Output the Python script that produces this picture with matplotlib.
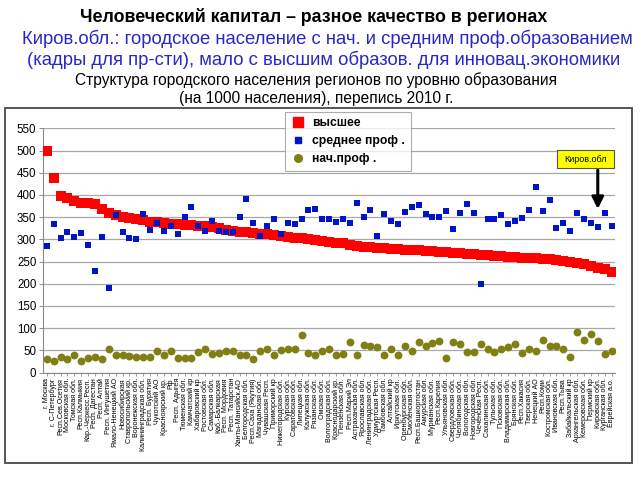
import matplotlib
matplotlib.use("Agg")
import matplotlib.pyplot as plt
from matplotlib.patches import Rectangle
from matplotlib.lines import Line2D

plt.rcParams['font.family'] = ['Liberation Sans', 'DejaVu Sans']

regions = [
    "г. Москва", "г. С-Петербург", "Респ.Сев.Осетия", "Московская обл.", "Томская обл.",
    "Респ.Калмыкия", "Кар.-Черкесс.Респ.", "Респ. Дагестан", "Респ. Алтай", "Респ. Ингушетия",
    "Ямало-Ненецкий АО", "Новосибирская", "Ставропольский кр.", "Воронежская обл.", "Калининградская обл.",
    "Респ. Бурятия", "Чукотский АО", "Красноярский кр.", "Рф", "Респ. Адыгея",
    "Тюменская обл.", "Камчатский кр", "Хабаровский кр", "Ростовская обл.", "Самарская обл.",
    "Каб.-Балкарская", "Респ. Мордовия", "Респ. Татарстан", "Ханты-Мансийск.АО", "Белгородская обл.",
    "Респ.Саха (Якутия)", "Магаданская обл.", "Чувашская Респ.", "Приморский кр", "Нижегородская обл.",
    "Курская обл.", "Саратовская обл.", "Липецкая обл.", "Калужская обл.", "Рязанская обл.",
    "Омская обл.", "Волгоградская обл.", "Краснодарский кр.", "Пензенская обл.", "Респ.Марий Эл",
    "Астраханская обл.", "Ярославская обл.", "Ленинградская обл.", "Удмуртская Респ.", "Тамбовская обл.",
    "Алтайский кр", "Иркутская обл.", "Оренбургская обл.", "Смоленская обл.", "Респ.Башкортостан",
    "Амурская обл.", "Мурманская обл.", "Респ.Карелия", "Ульяновская обл.", "Свердловская обл.",
    "Челябинская обл.", "Вологодская обл.", "Новгородская обл.", "Чеченская Респ.", "Сахалинская обл.",
    "Тульская обл.", "Псковская обл.", "Владимирская обл.", "Брянская обл.", "Респ.Хакасия",
    "Тверская обл.", "Ненецкий АО", "Респ.Коми", "Костромская обл.", "Ивановская обл.",
    "Респ.Тыва", "Забайкальский кр", "Архангельская обл.", "Кемеровская обл.", "Пермский кр",
    "Кировская обл.", "Курганская обл.", "Еврейская а.о.",
]

higher = [
    500, 437, 397, 392, 386, 382, 381, 380, 368, 360,
    355, 350, 347, 345, 343, 340, 338, 336, 335, 334,
    333, 332, 331, 330, 328, 325, 320, 318, 317, 316,
    315, 313, 312, 310, 308, 306, 304, 302, 300, 298,
    296, 293, 292, 291, 288, 285, 283, 282, 281, 280,
    279, 278, 277, 276, 275, 274, 273, 272, 271, 270,
    269, 268, 266, 265, 264, 263, 262, 261, 260, 259,
    258, 257, 256, 255, 253, 251, 249, 247, 244, 240,
    236, 233, 226,
]

secondary = [
    286, 334, 302, 316, 306, 315, 288, 229, 306, 191,
    355, 317, 302, 300, 358, 321, 337, 319, 331, 313,
    351, 373, 331, 319, 342, 319, 316, 316, 351, 391,
    337, 308, 331, 346, 312, 337, 334, 346, 366, 369,
    346, 346, 340, 345, 337, 381, 350, 367, 308, 358,
    342, 334, 362, 372, 377, 357, 351, 350, 364, 323,
    360, 379, 360, 199, 346, 346, 355, 334, 341, 349,
    366, 417, 364, 389, 325, 337, 319, 360, 345, 336,
    328, 360, 331,
]

primary = [
    30, 26, 34, 31, 39, 26, 32, 34, 30, 53,
    39, 39, 37, 35, 35, 35, 48, 39, 48, 33,
    33, 33, 47, 53, 42, 43, 49, 49, 39, 39,
    30, 48, 53, 39, 51, 54, 53, 84, 43, 39,
    48, 53, 39, 42, 68, 39, 62, 60, 57, 39,
    53, 39, 60, 48, 68, 60, 66, 72, 33, 68,
    64, 47, 47, 64, 52, 47, 54, 58, 64, 45,
    54, 49, 73, 60, 60, 54, 34, 92, 73, 86,
    71, 41, 48,
]

legend_labels = ["высшее", "среднее проф .", "нач.проф ."]
yticks = [0, 50, 100, 150, 200, 250, 300, 350, 400, 450, 500, 550]

W, H = 640, 480
fig = plt.figure(figsize=(6.4, 4.8), dpi=100)
fig.patch.set_facecolor('white')

# titles
fig.text(314 / W, 1 - 17 / H, "Человеческий капитал – разное качество в регионах",
         ha='center', va='center', fontsize=12.8, fontweight='bold', color='black')
fig.text(327 / W, 1 - 38.5 / H, "Киров.обл.: городское население с нач. и средним проф.образованием",
         ha='center', va='center', fontsize=13.3, color='#2727C8')
fig.text(324 / W, 1 - 60 / H, "(кадры для пр-сти), мало с высшим образов. для инновац.экономики",
         ha='center', va='center', fontsize=13.3, color='#2727C8')
fig.text(316.5 / W, 1 - 80 / H, "Структура городского населения регионов по уровню образования",
         ha='center', va='center', fontsize=11.2, color='black')
fig.text(316.5 / W, 1 - 98.5 / H, "(на 1000 населения), перепись 2010 г.",
         ha='center', va='center', fontsize=11.2, color='black')

# chart frame
fig.patches.append(Rectangle((5 / W, 1 - 463 / H), (632 - 5) / W, (463 - 108) / H,
                             transform=fig.transFigure, fill=False,
                             edgecolor='#555555', linewidth=1.4))

ax = fig.add_axes([43.3 / W, 1 - 372.5 / H, (615 - 43.3) / W, (372.5 - 128.3) / H])
x = list(range(len(regions)))

ax.scatter(x, primary, s=32, marker='o', color='#7F7F14', zorder=3, linewidths=0)
ax.scatter(x, secondary, s=24, marker='s', color='#0014C8', zorder=4, linewidths=0)
ax.scatter(x, higher, s=50, marker='s', color='#FF0000', zorder=3, linewidths=0)

ax.set_xlim(-0.5, len(regions) - 0.5)
ax.set_ylim(0, 550)
ax.set_yticks(yticks)
ax.set_yticklabels([str(v) for v in yticks], fontsize=8.3)
ax.yaxis.grid(True, color='#A8A8A8', linewidth=0.9)
ax.set_axisbelow(True)
ax.set_xticks(x)
ax.set_xticklabels(regions, rotation=90, fontsize=5.1, ha='center', va='top')
ax.tick_params(axis='x', length=2.5, width=0.5, color='#777777', pad=1.5)
ax.tick_params(axis='y', length=3, width=0.6, color='#777777', pad=2)
for s in ['top', 'right']:
    ax.spines[s].set_visible(False)
for s in ['left', 'bottom']:
    ax.spines[s].set_color('#888888')
    ax.spines[s].set_linewidth(0.8)

handles = [
    Line2D([], [], linestyle='none', marker='s', markersize=7, color='#FF0000'),
    Line2D([], [], linestyle='none', marker='s', markersize=5, color='#0014C8'),
    Line2D([], [], linestyle='none', marker='o', markersize=5.5, color='#7F7F14'),
]
leg = ax.legend(handles, legend_labels, loc='upper left', bbox_to_anchor=(0.423, 1.067),
                prop={'size': 8.7, 'weight': 'bold'}, frameon=True, fancybox=False,
                edgecolor='#999999', labelspacing=0.5, handletextpad=0.6,
                borderpad=0.45, handlelength=1.2, borderaxespad=0)
leg.get_frame().set_linewidth(0.8)

# Kirov annotation
kirov = regions.index("Кировская обл.")
ax.annotate('', xy=(kirov, 362), xytext=(kirov, 462),
            arrowprops=dict(arrowstyle='-|>,head_width=0.35,head_length=0.7',
                            color='black', lw=2.2), zorder=6)
fig.patches.append(Rectangle((557 / W, 1 - 168 / H), (614 - 557) / W, (168 - 150) / H,
                             transform=fig.transFigure, facecolor='#FFFF00',
                             edgecolor='#555555', linewidth=0.8, zorder=7))
fig.text(585.5 / W, 1 - 159 / H, 'Киров.обл', ha='center', va='center',
         fontsize=6.5, color='black', zorder=8)

fig.savefig('out.png', dpi=100)
